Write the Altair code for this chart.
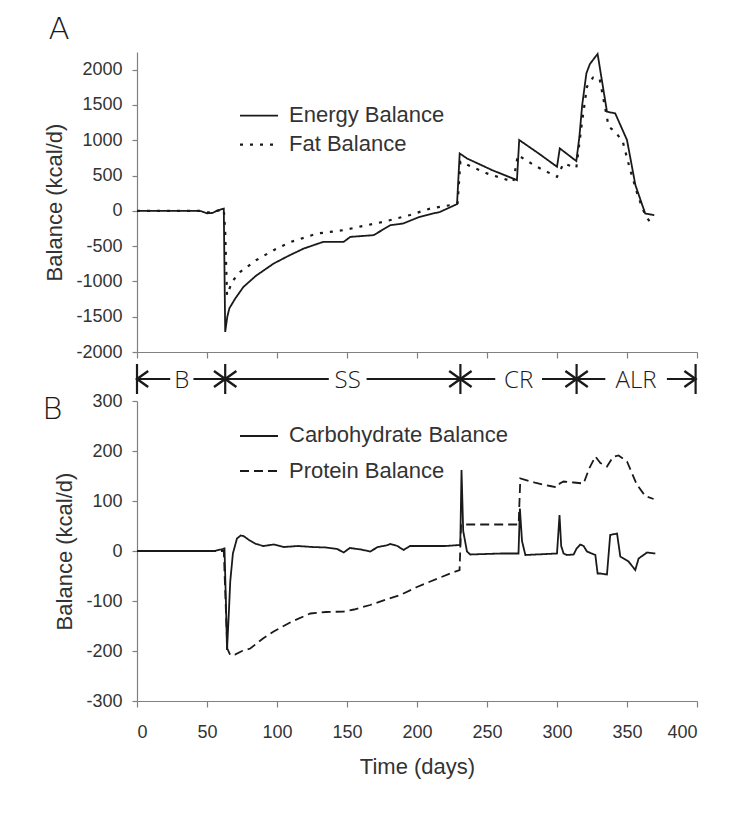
import altair as alt
import pandas as pd

# ---------------- data ----------------
# Panel A
energy_day = [0, 20, 45, 50, 54, 57, 60, 62, 63, 64.5, 66, 70, 76, 85, 97.6, 108, 119, 133,
              147.6, 152.4, 169, 181, 190, 202, 216.6, 228.6, 230.5, 235.7, 253.6, 271.4, 273,
              286.9, 300, 302, 313.8, 316, 318, 321, 323.5, 329, 335.7, 341.6, 350, 356, 363, 369.5]
energy_val = [0, 0, 0, -35, -30, 0, 20, 30, -1716, -1500, -1380, -1248, -1078, -920, -747, -640,
              -535, -440, -440, -369, -345, -203, -180, -85, -14, 95, 813, 742, 577, 435, 1003,
              813, 624, 884, 705, 1050, 1500, 1948, 2080, 2223, 1404, 1380, 1003, 365, -38, -61]

fat_day = [0, 45, 50, 54, 57, 60, 62, 63, 64.3, 68, 73.8, 85, 97.6, 110, 128.6, 147.6, 160, 176,
           195, 209.5, 223.8, 229, 231, 250, 268.8, 272, 285, 300, 304.7, 313.8, 317.5, 321.4,
           325.7, 330.4, 336.9, 341.6, 347, 352, 358, 363, 366]
fat_val = [0, 0, -20, -25, 0, 10, 20, -300, -1196, -1000, -865, -700, -557, -440, -322, -274,
           -220, -156, -60, 33, 80, 110, 695, 530, 411, 790, 630, 482, 671, 610, 1200, 1759,
           1887, 1877, 1191, 1120, 979, 600, 200, -60, -146]

# Panel B
carb_day = [0, 55, 60, 62.5, 63.5, 64.3, 65.5, 66.6, 68.5, 71.4, 74, 76.1, 80, 85, 90.4, 97.6,
            105, 115, 125, 135, 143, 147.6, 152, 160, 166.6, 172, 178, 181, 186, 190.4, 195,
            209.5, 220, 230.9, 231.8, 233, 235.7, 238, 260, 272.5, 273.5, 275, 277.4, 300,
            301.8, 303, 304.7, 307, 311.9, 314, 316.6, 319, 321.4, 327.4, 329, 331, 335.7, 338,
            342.9, 345.2, 351.1, 355.9, 358.3, 364.3, 370.2]
carb_val = [0, 0, 3, 5, -100, -198, -130, -61, -5, 25, 31, 30, 22, 14, 10, 13,
            8, 10, 8, 7, 4, -3, 6, 3, -1, 8, 11, 14, 10, 2, 10,
            10, 10, 12, 162, 40, -1, -7, -5, -5, 85, 20, -8, -5,
            72, 10, -5, -8, -7, 5, 13, 10, -1, -8, -45, -45, -47, 32,
            35, -11, -21, -38, -15, -3, -5]

prot_day = [0, 62, 63, 64.5, 66.6, 70, 75, 80.9, 90, 97.6, 110, 123.8, 135, 147.6, 155, 166.6,
            180, 188, 200, 209.5, 223.8, 230.4, 231.5, 272.6, 273.8, 285, 295, 300, 302, 304.7,
            312, 319, 323, 327.4, 331, 335.7, 340, 344, 350, 357, 363, 369]
prot_val = [0, 0, -80, -195, -208, -207, -200, -195, -175, -161, -142, -125, -122, -121, -117,
            -108, -95, -88, -72, -61, -45, -38, 53, 53, 145, 136, 130, 127, 135, 139,
            137, 135, 165, 189, 176, 169, 188, 191, 179, 133, 110, 104]

# Study phases
phase_names = ["B", "SS", "CR", "ALR"]
phase_start = [0, 63, 231, 314]
phase_end = [63, 231, 314, 399]
phase_label_day = [32, 150.5, 272.6, 356.5]
phase_label_half = [8.3, 13.5, 16.7, 22]

x_ticks = list(range(0, 401, 50))
a_ticks = list(range(-2000, 2001, 500))
b_ticks = list(range(-300, 301, 100))

legend_a = ["Energy Balance", "Fat Balance"]
legend_b = ["Carbohydrate Balance", "Protein Balance"]

# ---------------- styling ----------------
GRAY = "#808080"
INK = "#1a1a1a"
TXT = "#333333"
SANS = "Liberation Sans"
GOTH = "Open Sans"
LETTER = "DejaVu Sans"
W = 560
HA = 300
HB = 300
HM = 49

dash_solid = [1, 0]
dash_dot = [3, 7]
dash_dash = [9, 5]

x_scale = alt.Scale(domain=[0, 400], nice=False, zero=False)


def series(days, vals):
    return pd.DataFrame({"day": days, "val": vals})


def line(df, dash, yscale, xaxis, yaxis, width=1.8):
    return alt.Chart(df).mark_line(color=INK, strokeWidth=width, strokeDash=dash).encode(
        x=alt.X("day:Q", scale=x_scale, axis=xaxis),
        y=alt.Y("val:Q", scale=yscale, axis=yaxis),
    )


def legend_entry(label, dash, ly, ty, width=1.8):
    d = pd.DataFrame({"t": [label]})
    sample = alt.Chart(d).mark_rule(color=INK, strokeWidth=width, strokeDash=dash).encode(
        x=alt.value(103), x2=alt.value(141), y=alt.value(ly)
    )
    text = alt.Chart(d).mark_text(
        font=SANS, fontSize=22, color=TXT, align="left", baseline="alphabetic"
    ).encode(x=alt.value(152), y=alt.value(ty), text="t:N")
    return sample + text


def panel_letter(letter, px, py):
    d = pd.DataFrame({"t": [letter]})
    return alt.Chart(d).mark_text(
        font=LETTER, fontSize=31, fontWeight=200, color=INK, align="center", baseline="alphabetic"
    ).encode(x=alt.value(px), y=alt.value(py), text="t:N")


# ---------------- panel A ----------------
yA = alt.Scale(domain=[-2000, 2250], nice=False, zero=False)
axA_x = alt.Axis(values=x_ticks, labels=False, title=None, tickSize=6)
axA_y = alt.Axis(values=a_ticks, title="Balance (kcal/d)")

panelA = alt.layer(
    line(series(energy_day, energy_val), dash_solid, yA, axA_x, axA_y),
    line(series(fat_day, fat_val), dash_dot, yA, axA_x, axA_y, width=2.2),
    legend_entry(legend_a[0], dash_solid, 63.6, 69.6),
    legend_entry(legend_a[1], dash_dot, 92.6, 98.6, width=2.2),
    panel_letter("A", -78, -13),
).properties(width=W, height=HA)

# ---------------- phase bar ----------------
seg_x, seg_x2 = [], []
for s, e, c, h in zip(phase_start, phase_end, phase_label_day, phase_label_half):
    seg_x += [s, c + h]
    seg_x2 += [c - h, e]
segs = pd.DataFrame({"x": seg_x, "x2": seg_x2})
bounds = pd.DataFrame({"b": sorted(set(phase_start) | set(phase_end))})
starts = pd.DataFrame({"s": phase_start})
ends = pd.DataFrame({"e": phase_end})
labels = pd.DataFrame({"name": phase_names, "c": phase_label_day})

LY = 27
phase = alt.layer(
    alt.Chart(segs).mark_rule(color=INK, strokeWidth=2).encode(
        x=alt.X("x:Q", scale=x_scale, axis=None), x2="x2:Q", y=alt.value(LY)
    ),
    alt.Chart(bounds).mark_rule(color=INK, strokeWidth=2.2).encode(
        x=alt.X("b:Q", scale=x_scale, axis=None), y=alt.value(LY - 15), y2=alt.value(LY + 15)
    ),
    alt.Chart(starts).mark_point(
        shape="M1.4,-1L0,0L1.4,1", size=256, filled=False, strokeWidth=2.4, color=INK, opacity=1
    ).encode(x=alt.X("s:Q", scale=x_scale, axis=None), y=alt.value(LY)),
    alt.Chart(ends).mark_point(
        shape="M-1.4,-1L0,0L-1.4,1", size=256, filled=False, strokeWidth=2.4, color=INK, opacity=1
    ).encode(x=alt.X("e:Q", scale=x_scale, axis=None), y=alt.value(LY)),
    alt.Chart(labels).mark_text(
        font=GOTH, fontSize=24, fontWeight=300, color=INK, align="center", baseline="alphabetic"
    ).encode(x=alt.X("c:Q", scale=x_scale, axis=None), y=alt.value(LY + 9), text="name:N"),
).properties(width=W, height=HM)

# ---------------- panel B ----------------
yB = alt.Scale(domain=[-300, 300], nice=False, zero=False)
axB_x = alt.Axis(values=x_ticks, title="Time (days)", tickSize=6, labelPadding=16, titlePadding=15)
axB_y = alt.Axis(values=b_ticks, title="Balance (kcal/d)")

panelB = alt.layer(
    line(series(carb_day, carb_val), dash_solid, yB, axB_x, axB_y),
    line(series(prot_day, prot_val), dash_dash, yB, axB_x, axB_y),
    legend_entry(legend_b[0], dash_solid, 35, 41),
    legend_entry(legend_b[1], dash_dash, 70, 76.7),
    panel_letter("B", -84.5, 18),
).properties(width=W, height=HB)

chart = alt.vconcat(panelA, phase, panelB, spacing=0, bounds="flush").resolve_scale(
    x="independent", y="independent"
).properties(
    padding={"left": 34, "top": 6, "right": 5, "bottom": 5}
).configure_view(stroke=None).configure_axis(
    grid=False,
    domainColor=GRAY,
    tickColor=GRAY,
    domainWidth=1.2,
    tickWidth=1.2,
    tickSize=5,
    labelFont=SANS,
    labelFontSize=18,
    labelColor=TXT,
    labelPadding=10,
    labelExpr="'' + datum.value",
    titleFont=SANS,
    titleFontSize=22,
    titleFontWeight="normal",
    titleColor=TXT,
    titlePadding=9,
)

chart.save("out.html", embed_options={"renderer": "svg", "actions": False})
